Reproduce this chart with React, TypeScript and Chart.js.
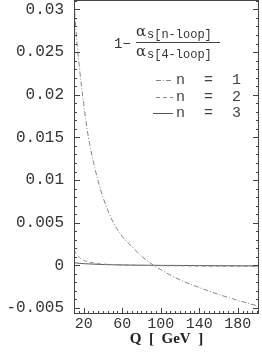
import React, { useEffect, useRef } from "react";
import { Chart, registerables } from "chart.js";
Chart.register(...registerables);

const qValues = [10, 12, 14, 16, 18, 20, 22, 25, 30, 35, 40, 50, 60, 70, 80, 90, 100, 120, 140, 160, 180, 202];
const n1Values = [0.0309, 0.0276, 0.025, 0.0228, 0.0208, 0.019, 0.0172, 0.015, 0.0122, 0.0099, 0.008, 0.0052, 0.0034, 0.0022, 0.0011, 0.0002, -0.0005, -0.0017, -0.0026, -0.0034, -0.0041, -0.0048];
const n2Values = [0.0018, 0.0014, 0.0011, 0.0009, 0.0007, 0.0006, 0.0005, 0.0004, 0.0003, 0.0002, 0.00015, 0.0001, 0.00005, 0.00002, 0, -0.00002, -0.00004, -0.00006, -0.00008, -0.0001, -0.0001, -0.00012];
const n3Values = [0.0003, 0.00028, 0.00026, 0.00024, 0.00022, 0.0002, 0.00019, 0.00017, 0.00015, 0.00012, 0.0001, 0.00007, 0.00005, 0.00003, 0.00002, 0.00001, 0, -0.00001, -0.00003, -0.00004, -0.00005, -0.00006];
const seriesNames = ["n = 1", "n = 2", "n = 3"];
const xTickValues = [20, 60, 100, 140, 180];
const yTickValues = [0.03, 0.025, 0.02, 0.015, 0.01, 0.005, 0, -0.005];
const yTickLabels = ["0.03", "0.025", "0.02", "0.015", "0.01", "0.005", "0", "-0.005"];
const xTitle = "Q  [  GeV  ]";
const fracNumerator = ["α", "s[n-loop]"];
const fracDenominator = ["α", "s[4-loop]"];

const lineColors = ["#858585", "#8a8a8a", "#555555"];
const lineDashes = [[5, 2, 1, 2], [4, 3], []];

const framePlugin = {
  id: "frameAndExtras",
  afterDraw(chart: any) {
    const { ctx, chartArea, scales } = chart;
    const { left, right, top, bottom } = chartArea;
    const xs = scales.x;
    const ys = scales.y;
    ctx.save();
    ctx.strokeStyle = "#444";
    ctx.lineWidth = 1;
    ctx.strokeRect(left + 0.5, top + 0.5, right - left - 1, bottom - top - 1);
    ctx.beginPath();
    for (let i = -6; i <= 31; i++) {
      const v = i / 1000;
      const py = Math.round(ys.getPixelForValue(v)) + 0.5;
      if (py < top + 1 || py > bottom - 1) continue;
      const len = i % 5 === 0 ? 6 : 3;
      ctx.moveTo(left, py);
      ctx.lineTo(left + len, py);
      ctx.moveTo(right, py);
      ctx.lineTo(right - len, py);
    }
    for (let q = 10; q <= 200; q += 5) {
      const px = Math.round(xs.getPixelForValue(q)) + 0.5;
      const len = (q - 20) % 40 === 0 ? 6 : 3;
      ctx.moveTo(px, bottom);
      ctx.lineTo(px, bottom - len);
    }
    ctx.stroke();

    ctx.fillStyle = "#333";
    ctx.textBaseline = "middle";
    ctx.font = "14px 'Liberation Mono'";
    ctx.fillText("1\u2212", left + 40, top + 44);
    const fx = left + 62;
    ctx.font = "15px 'DejaVu Serif'";
    ctx.fillText(fracNumerator[0], fx, top + 32);
    ctx.fillText(fracDenominator[0], fx, top + 52);
    ctx.font = "12px 'Liberation Mono'";
    ctx.fillText(fracNumerator[1], fx + 11, top + 35);
    ctx.fillText(fracDenominator[1], fx + 11, top + 55);
    ctx.beginPath();
    ctx.lineWidth = 1;
    ctx.moveTo(fx, top + 42.5);
    ctx.lineTo(fx + 84, top + 42.5);
    ctx.stroke();

    ctx.font = "15px 'Liberation Mono'";
    const rows = [80, 97, 113];
    seriesNames.forEach((name, i) => {
      const y = top + rows[i];
      ctx.save();
      ctx.strokeStyle = lineColors[i];
      ctx.setLineDash(lineDashes[i]);
      ctx.beginPath();
      ctx.moveTo(left + (i === 2 ? 79 : 82), y + 0.5);
      ctx.lineTo(left + 99, y + 0.5);
      ctx.stroke();
      ctx.restore();
      const parts = name.split(" ");
      ctx.fillStyle = "#444";
      parts.forEach((p, j) => ctx.fillText(p, left + 102 + j * 28, y));
    });
    ctx.restore();
  },
};

export default function App() {
  const ref = useRef<HTMLCanvasElement>(null);
  useEffect(() => {
    const datasets = [n1Values, n2Values, n3Values].map((vals, i) => ({
      label: seriesNames[i],
      data: qValues.map((q, k) => ({ x: q, y: vals[k] })),
      borderColor: lineColors[i],
      borderWidth: 1,
      borderDash: lineDashes[i],
      pointRadius: 0,
      fill: false,
      cubicInterpolationMode: "monotone" as const,
    }));
    const chart = new Chart(ref.current!, {
      type: "line",
      data: { datasets },
      plugins: [framePlugin],
      options: {
        animation: false,
        responsive: false,
        maintainAspectRatio: false,
        layout: { padding: { top: 0, right: 3, left: 0, bottom: 0 } },
        plugins: { legend: { display: false }, tooltip: { enabled: false } },
        scales: {
          x: {
            type: "linear",
            min: 10,
            max: 202,
            grid: { display: false, drawTicks: false },
            border: { display: false },
            afterBuildTicks: (s: any) => {
              s.ticks = xTickValues.map((v) => ({ value: v }));
            },
            afterFit: (s: any) => {
              s.height = 40;
              s.paddingLeft = 0;
              s.paddingRight = 0;
            },
            ticks: {
              padding: 1,
              color: "#333",
              maxRotation: 0,
              font: { family: "'Liberation Mono'", size: 15 },
              callback: (v: any) => String(v),
            },
            title: {
              display: true,
              text: xTitle,
              color: "#222",
              padding: { top: 3, bottom: 6 },
              font: { family: "'Liberation Serif'", size: 15, weight: "bold" },
            },
          },
          y: {
            type: "linear",
            min: -0.0057,
            max: 0.0311,
            grid: { display: false, drawTicks: false },
            border: { display: false },
            afterBuildTicks: (s: any) => {
              s.ticks = yTickValues.map((v) => ({ value: v }));
            },
            afterFit: (s: any) => {
              s.width = 74;
              s.paddingTop = 0;
              s.paddingBottom = 0;
            },
            ticks: {
              padding: 10,
              color: "#333",
              font: { family: "'Liberation Mono'", size: 16 },
              callback: (v: any) => {
                const i = yTickValues.findIndex((t) => Math.abs(t - v) < 1e-9);
                return i >= 0 ? yTickLabels[i] : "";
              },
            },
          },
        },
      },
    });
    return () => chart.destroy();
  }, []);
  return (
    <div style={{ position: "absolute", left: 0, top: 0, width: 262, height: 354, background: "#fff" }}>
      <canvas ref={ref} width={262} height={354} style={{ width: 262, height: 354 }} />
    </div>
  );
}
